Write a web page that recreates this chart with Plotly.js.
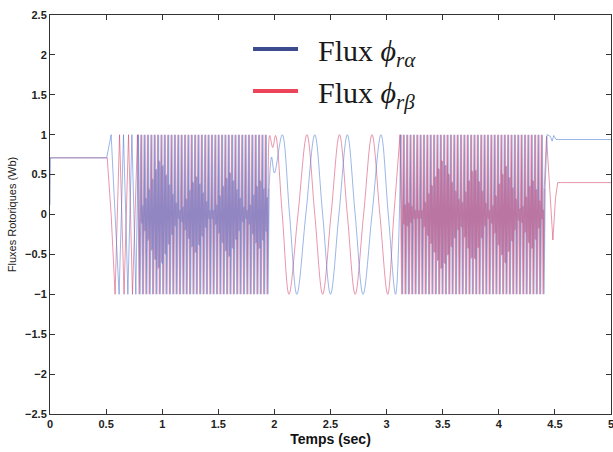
<!DOCTYPE html>
<html><head><meta charset="utf-8">
<script src="https://cdn.plot.ly/plotly-3.0.1.min.js"></script>
<style>body{margin:0;background:#fff}#chart{width:613px;height:452px}</style>
</head><body><div id="chart"></div>
<script>
// ---- start-up (flat) and first acceleration, explicit samples ----
const tRedStart  = [0, 0.51, 0.545, 0.58, 0.60, 0.62, 0.64, 0.66, 0.68, 0.70, 0.718, 0.735, 0.758, 0.78];
const yRedStart  = [0.71, 0.71, 0, -1, 0, 1, 0, -1, 0, 1, 0, -1, 0, 1];
const tBlueStart = [0, 0.004, 0.505, 0.545, 0.58, 0.616, 0.636, 0.655, 0.675, 0.694, 0.712, 0.73, 0.748, 0.765, 0.7875];
const yBlueStart = [0.12, 0.71, 0.71, 1, 0, -1, 0, 1, 0, -1, 0, 1, 0, -1, 1];

// ---- dense region 1 (uniform sampling, 0.005 s) ----
const sampleStep = 0.005;
const t0RedDense1 = 0.78, t0BlueDense1 = 0.7875;
const yRedDense1 = [
1,-0.05,0.05,-1,-0.33,0.33, 1,-0.1,0.1,-1,-0.33,0.33, 1,-0.21,0.21,-1,-0.33,0.33, 1,-0.33,0.33,-1,-0.33,0.33,
1,-0.45,0.45,-1,-0.33,0.33, 1,-0.56,0.56,-1,-0.33,0.33, 1,-0.68,0.68,-1,-0.33,0.33, 1,-0.6,0.6,-1,-0.33,0.33,
1,-0.49,0.49,-1,-0.33,0.33, 1,-0.37,0.37,-1,-0.33,0.33, 1,-0.25,0.25,-1,-0.33,0.33, 1,-0.14,0.14,-1,-0.33,0.33,
1,-0.05,0.05,-1,-0.33,0.33, 1,-0.09,0.09,-1,-0.33,0.33, 1,-0.2,0.2,-1,-0.33,0.33, 1,-0.3,0.3,-1,-0.33,0.33,
1,-0.41,0.41,-1,-0.33,0.33, 1,-0.48,0.48,-1,-0.33,0.33, 1,-0.38,0.38,-1,-0.33,0.33, 1,-0.27,0.27,-1,-0.33,0.33,
1,-0.16,0.16,-1,-0.33,0.33, 1,-0.05,0.05,-1,-0.33,0.33, 1,-0.05,0.05,-1,-0.33,0.33, 1,-0.13,0.13,-1,-0.33,0.33,
1,-0.24,0.24,-1,-0.33,0.33, 1,-0.35,0.35,-1,-0.33,0.33, 1,-0.46,0.46,-1,-0.33,0.33, 1,-0.53,0.53,-1,-0.33,0.33,
1,-0.42,0.42,-1,-0.33,0.33, 1,-0.31,0.31,-1,-0.33,0.33, 1,-0.2,0.2,-1,-0.33,0.33, 1,-0.09,0.09,-1,-0.33,0.33,
1,-0.05,0.05,-1,-0.33,0.33, 1,-0.13,0.13,-1,-0.33,0.33, 1,-0.24,0.24,-1,-0.33,0.33, 1,-0.36,0.36,-1,-0.33,0.33,
1,-0.43,0.43,-1,-0.33,0.33, 1,-0.32,0.32,-1,-0.33,0.33, 1,-0.21,0.21,-1,-0.33,0.33];
const yBlueDense1 = [
1,-0.06,0.06,-1,-0.33,0.33, 1,-0.12,0.12,-1,-0.33,0.33, 1,-0.2,0.2,-1,-0.33,0.33, 1,-0.31,0.31,-1,-0.33,0.33,
1,-0.44,0.44,-1,-0.33,0.33, 1,-0.57,0.57,-1,-0.33,0.33, 1,-0.66,0.66,-1,-0.33,0.33, 1,-0.62,0.62,-1,-0.33,0.33,
1,-0.5,0.5,-1,-0.33,0.33, 1,-0.38,0.38,-1,-0.33,0.33, 1,-0.26,0.26,-1,-0.33,0.33, 1,-0.15,0.15,-1,-0.33,0.33,
1,-0.06,0.06,-1,-0.33,0.33, 1,-0.1,0.1,-1,-0.33,0.33, 1,-0.19,0.19,-1,-0.33,0.33, 1,-0.31,0.31,-1,-0.33,0.33,
1,-0.4,0.4,-1,-0.33,0.33, 1,-0.47,0.47,-1,-0.33,0.33, 1,-0.39,0.39,-1,-0.33,0.33, 1,-0.28,0.28,-1,-0.33,0.33,
1,-0.17,0.17,-1,-0.33,0.33, 1,-0.06,0.06,-1,-0.33,0.33, 1,-0.06,0.06,-1,-0.33,0.33, 1,-0.12,0.12,-1,-0.33,0.33,
1,-0.23,0.23,-1,-0.33,0.33, 1,-0.36,0.36,-1,-0.33,0.33, 1,-0.45,0.45,-1,-0.33,0.33, 1,-0.52,0.52,-1,-0.33,0.33,
1,-0.43,0.43,-1,-0.33,0.33, 1,-0.32,0.32,-1,-0.33,0.33, 1,-0.21,0.21,-1,-0.33,0.33, 1,-0.1,0.1,-1,-0.33,0.33,
1,-0.06,0.06,-1,-0.33,0.33, 1,-0.12,0.12,-1,-0.33,0.33, 1,-0.25,0.25,-1,-0.33,0.33, 1,-0.35,0.35,-1,-0.33,0.33,
1,-0.42,0.42,-1,-0.33,0.33, 1,-0.33,0.33,-1,-0.33,0.33, 1,-0.22,0.22,-1,-0.33,0.33];

// ---- slow region (about 2 s to 3.1 s) ----
const tRedSlow  = [1.945, 1.958, 1.985, 2.01, 2.07, 2.13, 2.21, 2.29, 2.36, 2.43, 2.505, 2.58, 2.65, 2.72, 2.795, 2.87, 2.94, 3.01, 3.065, 3.12];
const yRedSlow  = [0.33, 0.99, 0.84, 0.99, 0, -1, 0, 1, 0, -1, 0, 1, 0, -1, 0, 1, 0, -1, 0, 1];
const tBlueSlow = [1.9525, 1.975, 2.0, 2.07, 2.135, 2.2, 2.28, 2.36, 2.43, 2.5, 2.575, 2.65, 2.72, 2.79, 2.87, 2.95, 3.015, 3.08, 3.1275];
const yBlueSlow = [0.33, 0.72, 0.52, 1, 0, -1, 0, 1, 0, -1, 0, 1, 0, -1, 0, 1, 0, -1, 1];

// ---- dense region 2 ----
const t0RedDense2 = 3.12, t0BlueDense2 = 3.1275;
const yRedDense2 = [
1,-0.08,0.08,-1,-0.33,0.33, 1,-0.12,0.12,-1,-0.33,0.33, 1,-0.15,0.15,-1,-0.33,0.33, 1,-0.1,0.1,-1,-0.33,0.33,
1,-0.05,0.05,-1,-0.33,0.33, 1,-0.05,0.05,-1,-0.33,0.33, 1,-0.05,0.05,-1,-0.33,0.33, 1,-0.16,0.16,-1,-0.33,0.33,
1,-0.26,0.26,-1,-0.33,0.33, 1,-0.37,0.37,-1,-0.33,0.33, 1,-0.47,0.47,-1,-0.33,0.33, 1,-0.58,0.58,-1,-0.33,0.33,
1,-0.68,0.68,-1,-0.33,0.33, 1,-0.61,0.61,-1,-0.33,0.33, 1,-0.51,0.51,-1,-0.33,0.33, 1,-0.4,0.4,-1,-0.33,0.33,
1,-0.3,0.3,-1,-0.33,0.33, 1,-0.19,0.19,-1,-0.33,0.33, 1,-0.15,0.15,-1,-0.33,0.33, 1,-0.29,0.29,-1,-0.33,0.33,
1,-0.42,0.42,-1,-0.33,0.33, 1,-0.55,0.55,-1,-0.33,0.33, 1,-0.55,0.55,-1,-0.33,0.33, 1,-0.42,0.42,-1,-0.33,0.33,
1,-0.29,0.29,-1,-0.33,0.33, 1,-0.15,0.15,-1,-0.33,0.33, 1,-0.05,0.05,-1,-0.33,0.33, 1,-0.11,0.11,-1,-0.33,0.33,
1,-0.24,0.24,-1,-0.33,0.33, 1,-0.38,0.38,-1,-0.33,0.33, 1,-0.51,0.51,-1,-0.33,0.33, 1,-0.6,0.6,-1,-0.33,0.33,
1,-0.47,0.47,-1,-0.33,0.33, 1,-0.33,0.33,-1,-0.33,0.33, 1,-0.2,0.2,-1,-0.33,0.33, 1,-0.07,0.07,-1,-0.33,0.33,
1,-0.1,0.1,-1,-0.33,0.33, 1,-0.23,0.23,-1,-0.33,0.33, 1,-0.35,0.35,-1,-0.33,0.33, 1,-0.43,0.43,-1,-0.33,0.33,
1,-0.31,0.31,-1,-0.33,0.33, 1,-0.18,0.18,-1,-0.33,0.33, 1,-0.06,0.06,-1,-0.33,0.33];
const yBlueDense2 = [
1,-0.07,0.07,-1,-0.33,0.33, 1,-0.13,0.13,-1,-0.33,0.33, 1,-0.14,0.14,-1,-0.33,0.33, 1,-0.11,0.11,-1,-0.33,0.33,
1,-0.06,0.06,-1,-0.33,0.33, 1,-0.05,0.05,-1,-0.33,0.33, 1,-0.06,0.06,-1,-0.33,0.33, 1,-0.15,0.15,-1,-0.33,0.33,
1,-0.27,0.27,-1,-0.33,0.33, 1,-0.36,0.36,-1,-0.33,0.33, 1,-0.48,0.48,-1,-0.33,0.33, 1,-0.57,0.57,-1,-0.33,0.33,
1,-0.67,0.67,-1,-0.33,0.33, 1,-0.62,0.62,-1,-0.33,0.33, 1,-0.5,0.5,-1,-0.33,0.33, 1,-0.41,0.41,-1,-0.33,0.33,
1,-0.29,0.29,-1,-0.33,0.33, 1,-0.2,0.2,-1,-0.33,0.33, 1,-0.16,0.16,-1,-0.33,0.33, 1,-0.28,0.28,-1,-0.33,0.33,
1,-0.43,0.43,-1,-0.33,0.33, 1,-0.54,0.54,-1,-0.33,0.33, 1,-0.56,0.56,-1,-0.33,0.33, 1,-0.41,0.41,-1,-0.33,0.33,
1,-0.3,0.3,-1,-0.33,0.33, 1,-0.14,0.14,-1,-0.33,0.33, 1,-0.06,0.06,-1,-0.33,0.33, 1,-0.12,0.12,-1,-0.33,0.33,
1,-0.23,0.23,-1,-0.33,0.33, 1,-0.39,0.39,-1,-0.33,0.33, 1,-0.5,0.5,-1,-0.33,0.33, 1,-0.61,0.61,-1,-0.33,0.33,
1,-0.46,0.46,-1,-0.33,0.33, 1,-0.34,0.34,-1,-0.33,0.33, 1,-0.19,0.19,-1,-0.33,0.33, 1,-0.08,0.08,-1,-0.33,0.33,
1,-0.11,0.11,-1,-0.33,0.33, 1,-0.22,0.22,-1,-0.33,0.33, 1,-0.36,0.36,-1,-0.33,0.33, 1,-0.42,0.42,-1,-0.33,0.33,
1,-0.32,0.32,-1,-0.33,0.33, 1,-0.17,0.17,-1,-0.33,0.33, 1,-0.06,0.06,-1,-0.33,0.33];

// ---- end of run ----
const tRedEnd  = [4.405, 4.425, 4.455, 4.482, 4.505, 4.525, 4.55, 5];
const yRedEnd  = [0.33, 0.98, 0.3, -0.32, 0.2, 0.4, 0.4, 0.4];
const tBlueEnd = [4.4125, 4.43, 4.46, 4.475, 4.49, 4.51, 4.53, 5];
const yBlueEnd = [0.33, 1, 0.98, 0.92, 0.99, 0.94, 0.94, 0.94];

const legendNames = ['&#160;&#160;Flux <i>ϕ<sub>rα</sub></i>', '&#160;&#160;Flux <i>ϕ<sub>rβ</sub></i>'];

const RED = 'rgba(214,64,104,0.55)', BLUE = 'rgba(74,122,214,0.55)';
function seg(x, y, color, shape) {
  return {type:'scatter', mode:'lines', x:x, y:y, showlegend:false, hoverinfo:'skip',
          line:{color:color, width:1, shape:shape||'linear'}};
}
function useg(x0, y, color) {
  return {type:'scatter', mode:'lines', x0:x0, dx:sampleStep, y:y, showlegend:false, hoverinfo:'skip',
          line:{color:color, width:1.3}};
}
const data = [
  seg(tRedStart, yRedStart, RED),
  useg(t0RedDense1, yRedDense1, RED),
  seg(tRedSlow, yRedSlow, RED, 'spline'),
  seg(tRedEnd, yRedEnd, RED),
  seg(tBlueStart, yBlueStart, BLUE),
  useg(t0BlueDense1, yBlueDense1, BLUE),
  seg(tBlueSlow, yBlueSlow, BLUE, 'spline'),
  useg(t0BlueDense2, yBlueDense2, BLUE),
  useg(t0RedDense2, yRedDense2, RED),
  seg(tBlueEnd, yBlueEnd, BLUE),
  {type:'scatter', mode:'lines', x:[null], y:[null], name:legendNames[0], legendrank:1,
   line:{color:'#3c4b8e', width:4}},
  {type:'scatter', mode:'lines', x:[null], y:[null], name:legendNames[1], legendrank:2,
   line:{color:'#ec4458', width:4}}
];
const axisCommon = {showgrid:false, zeroline:false, showline:true, linecolor:'#333', linewidth:1,
  mirror:'ticks', ticks:'inside', ticklen:5, tickcolor:'#333', ticklabeloverflow:'allow',
  tickfont:{family:'Liberation Sans, Arial, sans-serif', size:11, color:'#222', weight:'bold'}};
const layout = {
  width:613, height:452, paper_bgcolor:'#fff', plot_bgcolor:'#fff',
  margin:{l:50, r:2, t:15, b:38},
  showlegend:true,
  legend:{x:0.353, y:0.98, xanchor:'left', yanchor:'top', bgcolor:'rgba(0,0,0,0)',
    font:{family:'Liberation Serif, Times New Roman, serif', size:30, color:'#1a1a1a'},
    itemwidth:45, tracegroupgap:0},
  xaxis:Object.assign({}, axisCommon, {range:[0,5], dtick:0.5, tick0:0,
    title:{text:'Temps (sec)', standoff:4, font:{family:'Liberation Sans, Arial, sans-serif', size:14, color:'#111', weight:'bold'}}}),
  yaxis:Object.assign({}, axisCommon, {range:[-2.5,2.5], dtick:0.5, tick0:0,
    title:{text:'Fluxes Rotoriques (Wb)', standoff:6, font:{family:'Liberation Sans, Arial, sans-serif', size:11, color:'#222'}}})
};
Plotly.newPlot('chart', data, layout, {staticPlot:true, displayModeBar:false});
</script></body></html>
